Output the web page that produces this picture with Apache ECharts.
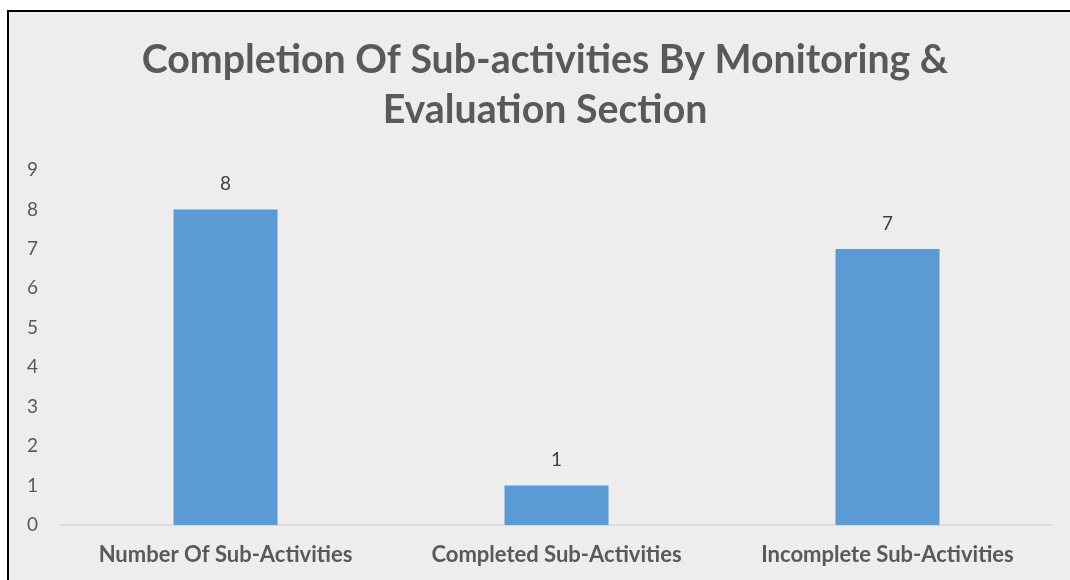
<!DOCTYPE html>
<html><head><meta charset="utf-8">
<script src="https://cdn.jsdelivr.net/npm/echarts@6/dist/echarts.min.js"></script>
<style>
html,body{margin:0;padding:0;background:#fff;width:1070px;height:580px;overflow:hidden;}
#box{position:absolute;left:7px;top:10px;width:1061px;height:568px;border-left:2px solid #000;border-top:2px solid #000;background:#EDEDED;}
#chart{width:1061px;height:568px;}
</style></head>
<body>
<div id="box"><div id="chart"></div></div>
<script>
var titleText = "Completion Of Sub-activities By Monitoring &\nEvaluation Section";
var categories = ["Number Of Sub-Activities", "Completed Sub-Activities", "Incomplete Sub-Activities"];
var values = [8, 1, 7];
var yMin = 0, yMax = 9, yInterval = 1;

var chart = echarts.init(document.getElementById('chart'), null, {renderer:'canvas'});
chart.setOption({
  backgroundColor: '#EDEDED',
  animation: false,
  title: {
    text: titleText,
    left: 531,
    textAlign: 'center',
    top: 18,
    padding: 5,
    textStyle: {fontFamily:'Lato', fontWeight:'bold', fontSize:39.3, color:'#595959', lineHeight:50}
  },
  grid: {left:51, right:17, top:158, bottom:55, containLabel:false},
  xAxis: {
    type:'category', data: categories,
    axisLine:{lineStyle:{color:'#D9D9D9', width:1.5}},
    axisTick:{show:false},
    axisLabel:{fontFamily:'Lato', fontWeight:'bold', fontSize:22, color:'#595959', margin:19}
  },
  yAxis: {
    type:'value', min:yMin, max:yMax, interval:yInterval,
    axisLine:{show:false}, axisTick:{show:false},
    splitLine:{show:false},
    axisLabel:{fontFamily:'Lato', fontSize:19, color:'#595959', margin:22}
  },
  series: [{
    type:'bar', data: values, barWidth:104,
    itemStyle:{color:'#5B9BD5'},
    label:{show:true, position:'top', distance:16, fontFamily:'Lato', fontSize:19, color:'#404040'}
  }]
});
</script>
</body></html>
